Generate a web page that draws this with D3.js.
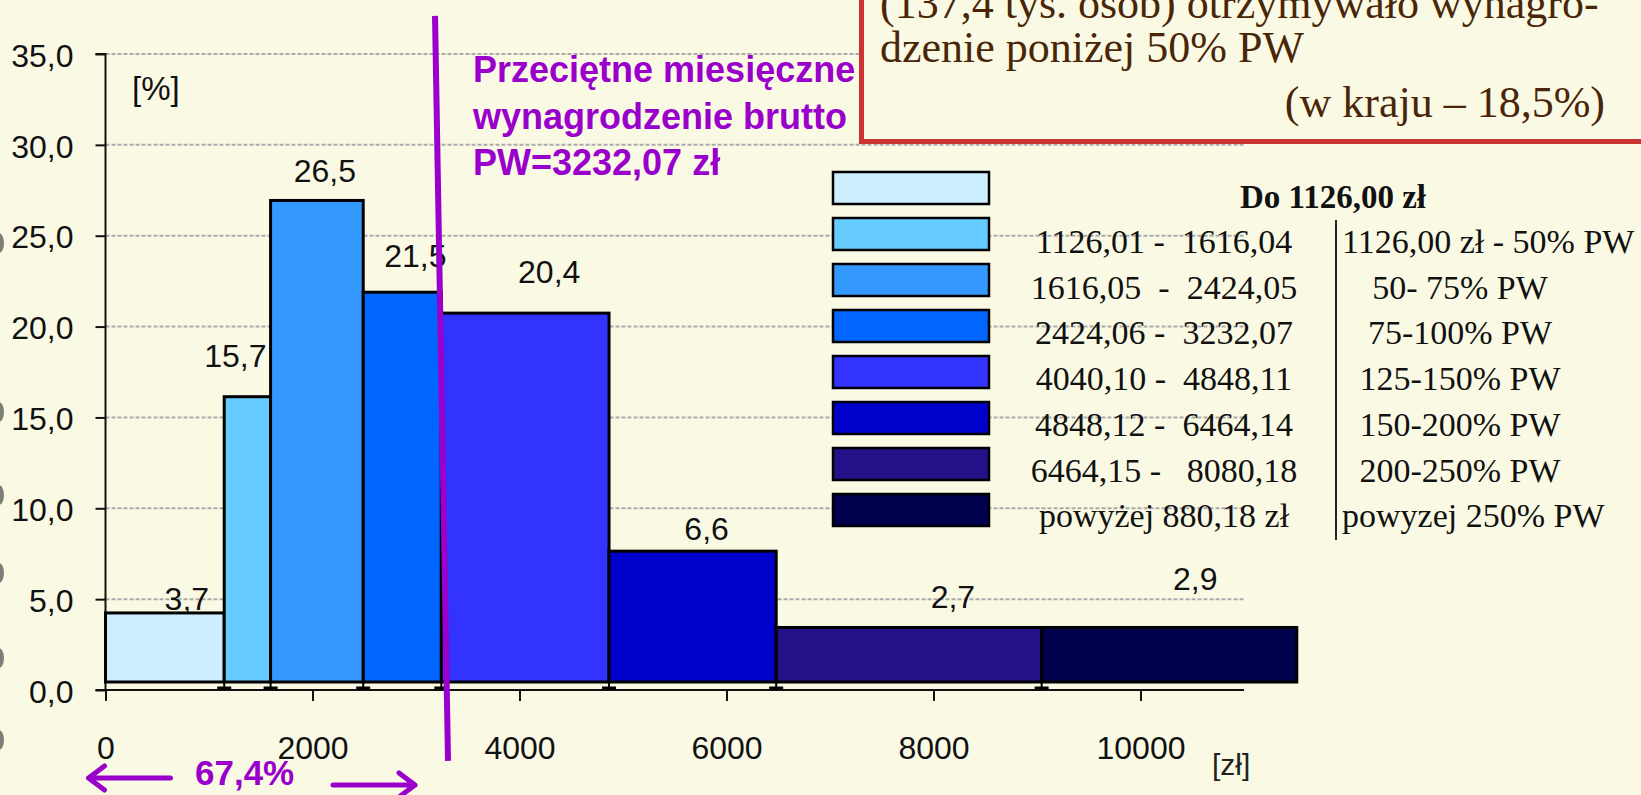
<!DOCTYPE html>
<html>
<head>
<meta charset="utf-8">
<script src="https://cdnjs.cloudflare.com/ajax/libs/d3/7.8.5/d3.min.js"></script>
<style>
  html, body { margin: 0; padding: 0; background: #fafae4; overflow: hidden; }
  svg { display: block; }
  text { white-space: pre; }
  .sans { font-family: "Liberation Sans", Arial, sans-serif; }
  .serif { font-family: "Liberation Serif", "Times New Roman", serif; }
</style>
</head>
<body>
<svg id="chart" width="1641" height="795"></svg>
<script>
// bins of the histogram [zł]
const binEdges = [0, 1147, 1595, 2490, 3245, 4865, 6480, 9045, 11510];
const barHeights = [3.8, 15.7, 26.5, 21.45, 20.3, 7.2, 3.0, 3.0];
const barLabels = ['3,7', '15,7', '26,5', '21,5', '20,4', '6,6', '2,7', '2,9'];
const barColors = ['#cceeff', '#66ccff', '#3399ff', '#0066ff', '#3333ff', '#0000cc', '#221188', '#00004d'];
const yTicks = [0, 5, 10, 15, 20, 25, 30, 35];
const xTicks = [0, 2000, 4000, 6000, 8000, 10000];
const PW = 3232.07;

const legendRanges = ['Do 1126,00 zł', '1126,01 -  1616,04', '1616,05  -  2424,05', '2424,06 -  3232,07',
   '4040,10 -  4848,11', '4848,12 -  6464,14', '6464,15 -   8080,18', 'powyżej 880,18 zł'];
const legendShares = ['', '1126,00 zł - 50% PW', '50- 75% PW', '75-100% PW',
   '125-150% PW', '150-200% PW', '200-250% PW', 'powyzej 250% PW'];

const boxLines = ['(137,4 tys. osób) otrzymywało wynagro-', 'dzenie poniżej 50% PW', '(w kraju – 18,5%)'];
const pwLines = ['Przeciętne miesięczne', 'wynagrodzenie brutto', 'PW=3232,07 zł'];

const PURPLE = '#9900cc';
const BG = '#fafae4';

const svg = d3.select('#chart');
const pl = d3.formatLocale({decimal: ',', thousands: '', grouping: [3], currency: ['', ' zł']});

const x = d3.scaleLinear().domain([0, 11000]).range([105.5, 1244]);
const y = d3.scaleLinear().domain([0, 35]).range([690, 54]);
const barBase = y(0) - 8;   // bars sit a little above the axis line
const barY = v => barBase - (y(0) - y(v));

// binder holes on the left edge
svg.append('g').selectAll('ellipse')
   .data([243, 412, 495, 573, 658, 740])
   .join('ellipse')
   .attr('cx', -1).attr('cy', d => d).attr('rx', 5).attr('ry', 10)
   .attr('fill', '#555').attr('opacity', 0.75);

// grid
svg.append('g').selectAll('line')
   .data(yTicks.filter(d => d > 0))
   .join('line')
   .attr('x1', x(0)).attr('x2', x.range()[1])
   .attr('y1', d => y(d)).attr('y2', d => y(d))
   .attr('stroke', '#aaa').attr('stroke-width', 2).attr('stroke-dasharray', '4,2');

// axes
const yAxis = svg.append('g')
   .attr('class', 'sans')
   .attr('transform', `translate(${x(0)},0)`)
   .call(d3.axisLeft(y).tickValues(yTicks).tickFormat(pl.format('.1f')).tickSize(10).tickPadding(22));
const xAxis = svg.append('g')
   .attr('class', 'sans')
   .attr('transform', `translate(0,${y(0)})`)
   .call(d3.axisBottom(x).tickValues(xTicks).tickFormat(d3.format('d')).tickSize(11).tickPadding(35));
[yAxis, xAxis].forEach(a => {
   a.select('.domain').attr('stroke', '#111').attr('stroke-width', 2);
   a.selectAll('.tick line').attr('stroke', '#111').attr('stroke-width', 2);
   a.selectAll('.tick text').attr('fill', '#111').style('font-size', '32px').attr('font-family', null);
});
yAxis.select('.domain').attr('d', `M-10,${y(35)}H0V${y(0)}`);
xAxis.select('.domain').attr('d', `M${x(0) - 10},0H${x.range()[1]}`);
yAxis.selectAll('.tick text').attr('dy', '0.38em');

svg.append('text').attr('class', 'sans')
   .attr('x', 132).attr('y', 100)
   .style('font-size', '33px').attr('fill', '#111')
   .text('[%]');
svg.append('text').attr('class', 'sans')
   .attr('x', 1212).attr('y', 775)
   .style('font-size', '30px').attr('fill', '#222')
   .text('[zł]');

// bars
const bins = barHeights.map((h, i) => ({x0: binEdges[i], x1: binEdges[i + 1], h, label: barLabels[i], color: barColors[i]}));
svg.append('g').selectAll('rect')
   .data(bins)
   .join('rect')
   .attr('x', d => x(d.x0))
   .attr('y', d => barY(d.h))
   .attr('width', d => x(d.x1) - x(d.x0))
   .attr('height', d => barBase - barY(d.h))
   .attr('fill', d => d.color)
   .attr('stroke', '#000').attr('stroke-width', 3);

// little feet under the bin edges
const feet = svg.append('g').selectAll('g')
   .data(binEdges.slice(1, -1))
   .join('g')
   .attr('transform', d => `translate(${x(d)},0)`);
feet.append('line').attr('y1', barBase).attr('y2', y(0)).attr('stroke', '#000').attr('stroke-width', 2);
feet.append('line').attr('x1', -7).attr('x2', 7).attr('y1', y(0) - 2).attr('y2', y(0) - 2)
   .attr('stroke', '#000').attr('stroke-width', 3);

// value labels (Excel put them a bit irregularly)
const labelNudge = [[22, -3], [-12, -30], [8, -18], [13, -25], [24, -30], [14, -11], [44, -19], [26, -37]];
svg.append('g').selectAll('text')
   .data(bins)
   .join('text')
   .attr('class', 'sans')
   .attr('x', (d, i) => (x(d.x0) + x(d.x1)) / 2 + labelNudge[i][0])
   .attr('y', (d, i) => barY(d.h) + labelNudge[i][1])
   .attr('text-anchor', 'middle')
   .style('font-size', '32px').attr('fill', '#111')
   .text(d => d.label);

// average wage line
svg.append('line')
   .attr('x1', x(PW) - 5).attr('y1', y(37.1))
   .attr('x2', x(PW) + 8).attr('y2', y(-3.9))
   .attr('stroke', PURPLE).attr('stroke-width', 6);

svg.append('g').selectAll('text')
   .data(pwLines)
   .join('text')
   .attr('class', 'sans')
   .attr('x', 473).attr('y', (d, i) => 82 + i * 46.5)
   .style('font-size', '36px').style('font-weight', 'bold').attr('fill', PURPLE)
   .text(d => d);

// red info box
svg.append('rect')
   .attr('x', 861.5).attr('y', -20).attr('width', 900).attr('height', 161.5)
   .attr('fill', BG).attr('stroke', '#cc3333').attr('stroke-width', 5);
svg.append('g').selectAll('text')
   .data(boxLines)
   .join('text')
   .attr('class', 'serif')
   .attr('x', (d, i) => i == 2 ? 1605 : 880)
   .attr('y', (d, i) => [18, 62, 117][i])
   .attr('text-anchor', (d, i) => i == 2 ? 'end' : 'start')
   .style('font-size', '44px').attr('fill', '#4a2608')
   .text(d => d);

// legend
const legend = svg.append('g');
legend.selectAll('rect')
   .data(barColors)
   .join('rect')
   .attr('x', 833).attr('y', (d, i) => 172 + i * 46)
   .attr('width', 156).attr('height', 32)
   .attr('fill', d => d)
   .attr('stroke', '#000').attr('stroke-width', 2.5);
legend.selectAll('text.range')
   .data(legendRanges)
   .join('text')
   .attr('class', 'range serif')
   .attr('x', (d, i) => i == 0 ? 1333 : 1164)
   .attr('y', (d, i) => i == 0 ? 208 : 253 + (i - 1) * 45.7)
   .attr('text-anchor', 'middle')
   .style('font-size', (d, i) => i == 0 ? '33px' : '34px')
   .style('font-weight', (d, i) => i == 0 ? 'bold' : 'normal')
   .attr('fill', '#111')
   .text(d => d);
legend.selectAll('text.share')
   .data(legendShares.slice(1))
   .join('text')
   .attr('class', 'share serif')
   .attr('x', (d, i) => i == 0 || i == legendShares.length - 2 ? 1342 : 1460)
   .attr('y', (d, i) => 253 + i * 45.7)
   .attr('text-anchor', (d, i) => i == 0 || i == legendShares.length - 2 ? 'start' : 'middle')
   .style('font-size', '34px').attr('fill', '#111')
   .text(d => d);
legend.append('line')
   .attr('x1', 1336).attr('x2', 1336).attr('y1', 220).attr('y2', 540)
   .attr('stroke', '#222').attr('stroke-width', 2);

// 67,4% arrows below the axis
const arrows = svg.append('g').attr('stroke', PURPLE).attr('stroke-width', 5).attr('fill', 'none')
   .attr('stroke-linecap', 'round').attr('stroke-linejoin', 'round');
arrows.append('path').attr('d', `M${x(0) + 65},778H${x(0) - 17}M${x(0) - 1},766L${x(0) - 17},778L${x(0) - 1},790`);
arrows.append('path').attr('d', `M${x(PW) - 107},785H${x(PW) - 25}M${x(PW) - 41},773L${x(PW) - 25},785L${x(PW) - 41},797`);
svg.append('text').attr('class', 'sans')
   .attr('x', 195).attr('y', 785)
   .style('font-size', '35px').style('font-weight', 'bold').attr('fill', PURPLE)
   .text('67,4%');
</script>
</body>
</html>
